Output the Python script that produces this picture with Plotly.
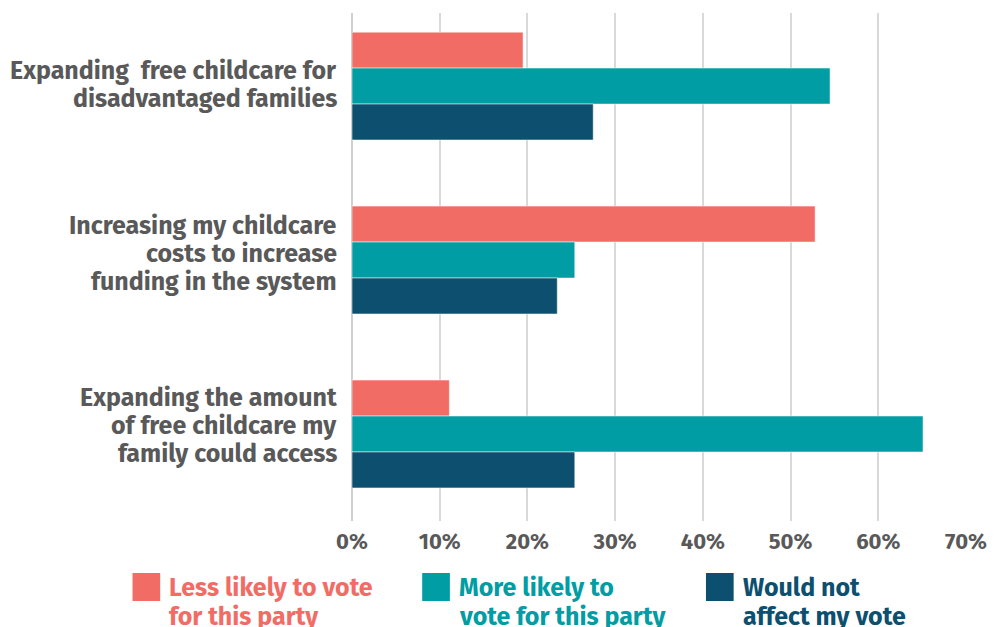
import plotly.graph_objects as go

categories = [
    "Expanding  free childcare for<br>disadvantaged families",
    "Increasing my childcare<br>costs to increase<br>funding in the system",
    "Expanding the amount<br>of free childcare my<br>family could access",
]
series_names = [
    "Less likely to vote<br>for this party",
    "More likely to<br>vote for this party",
    "Would not<br>affect my vote",
]
less_likely = [0.195, 0.528, 0.111]
more_likely = [0.545, 0.254, 0.651]
not_affect = [0.275, 0.234, 0.254]
colors = ["#F26C66", "#009DA4", "#0D4F6F"]
tick_vals = [0, 0.1, 0.2, 0.3, 0.4, 0.5, 0.6, 0.7]
tick_text = ["0%", "10%", "20%", "30%", "40%", "50%", "60%", "70%"]

W, H = 999, 627
SL, SR, ST, SB = 352, 973, 13, 521  # plot area in pixels
ML, MR, MT, MB = SL, W - SR, ST, H - SB
PW, PH = SR - SL, SB - ST

FONT = "Fira Sans, Roboto, sans-serif"
GREY = "#595959"

fig = go.Figure()
for name, vals, col in zip(series_names, [less_likely, more_likely, not_affect], colors):
    fig.add_trace(go.Bar(
        y=categories, x=vals, orientation="h", name=name,
        marker=dict(color=col, line=dict(color="rgba(255,255,255,0.5)", width=1)),
        showlegend=False, hoverinfo="skip",
    ))

def px_x(px):
    return (px - SL) / PW

def px_y(py):
    return (SB - py) / PH

# category labels (tight line spacing), anchored to the category axis
label_shift = [1, 6, 8]
for cat, sh in zip(categories, label_shift):
    lines = cat.split("<br>")
    n = len(lines)
    for j, line in enumerate(lines):
        fig.add_annotation(xref="paper", yref="y", x=px_x(SL - 13), y=cat,
                           yshift=sh + ((n - 1) / 2 - j) * 28.3,
                           xanchor="right", yanchor="middle", align="right", showarrow=False,
                           text="<b>" + line + "</b>",
                           font=dict(family=FONT, size=25, color=GREY))

# custom legend (large square swatches, coloured two-line labels)
leg_x = [130, 423, 710]
for i, (name, col) in enumerate(zip(series_names, colors)):
    x0 = leg_x[i]
    fig.add_shape(type="rect", xref="paper", yref="paper",
                  x0=px_x(x0), x1=px_x(x0 + 28), y0=px_y(573), y1=px_y(601),
                  fillcolor=col, line=dict(width=0))
    for j, line in enumerate(name.split("<br>")):
        fig.add_annotation(xref="paper", yref="paper", x=px_x(x0 + 35), y=px_y(588 + 29 * j),
                           xanchor="left", yanchor="middle", align="left", showarrow=False,
                           text="<b>" + line + "</b>",
                           font=dict(family=FONT, size=25, color=col))

fig.update_layout(
    width=W, height=H,
    margin=dict(l=ML, r=MR, t=MT, b=MB),
    paper_bgcolor="white", plot_bgcolor="white",
    barmode="group", bargap=0.38, bargroupgap=0,
    font=dict(family=FONT, size=22, color=GREY),
    xaxis=dict(range=[0, 0.7], tickvals=tick_vals, ticktext=["<b>%s</b>" % t for t in tick_text],
               showgrid=True, gridcolor="#D9D9D9", gridwidth=2, zeroline=True,
               zerolinecolor="#D0D0D0", zerolinewidth=2, showline=False,
               tickfont=dict(family=FONT, size=22, color=GREY), ticklen=0, ticks="",
               ticklabelstandoff=5, ticklabeloverflow="allow"),
    yaxis=dict(range=[2.5, -0.42], showticklabels=False,
               showgrid=False, showline=False, ticks="", ticklen=0),
)

fig.write_html("out.html",
               config={"displayModeBar": False, "responsive": False},
               post_script="document.body.style.margin='0';document.body.style.overflow='hidden';")
